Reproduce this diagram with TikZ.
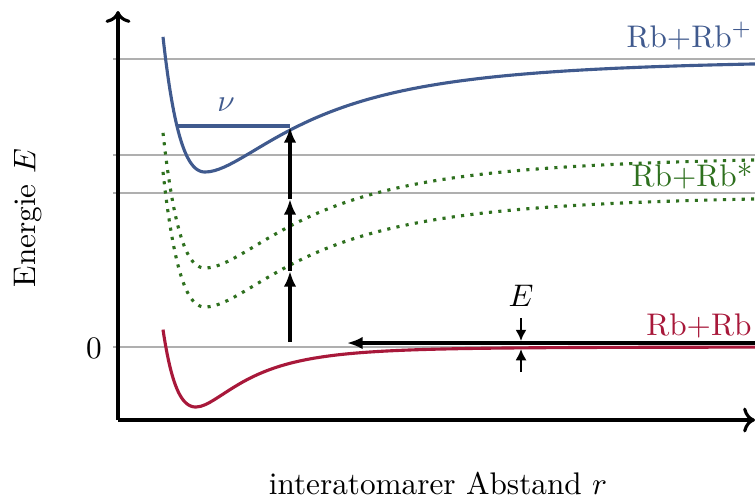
\documentclass[tikz,border=0pt]{standalone}
\usetikzlibrary{arrows.meta}
\definecolor{rbblue}{RGB}{64,90,142}
\definecolor{rbgreen}{RGB}{46,112,30}
\definecolor{rbred}{RGB}{168,24,58}
\definecolor{gridgray}{RGB}{175,175,175}
\begin{document}
\begin{tikzpicture}[x=0.32pt,y=-0.32pt,
  declare function={
    qionL(\x)=exp(-0.0176*(\x-205));
    qionR(\x)=exp(-3.43*ln(1+(\x-205)/270));
    qredL(\x)=exp(-0.023*(\x-196));
    qredR(\x)=exp(-5.61*ln(1+(\x-196)/230));
  },
  axisline/.style={line width=1pt,->},
  gridline/.style={draw=gridgray,line width=0.35pt},
  ionpot/.style={draw=rbblue,line width=1pt},
  excpot/.style={draw=rbgreen,line width=1pt,dotted},
  groundpot/.style={draw=rbred,line width=1pt},
  bigarrow/.style={line width=1pt,-{Latex[length=5pt,width=4pt]}},
  smallarrow/.style={line width=0.85pt,-{Latex[length=3.6pt,width=3.6pt]}},
  lbl/.style={font=\normalsize},
  curvelbl/.style={font=\normalsize,inner sep=0pt,anchor=base east}]
\useasboundingbox (0,0) rectangle (755,500);

% grid lines
\draw[gridline] (113,59) -- (755,59);
\draw[gridline] (113,155) -- (755,155);
\draw[gridline] (113,193) -- (755,193);
\draw[gridline] (113,347) -- (755,347);

% axes
\coordinate (O) at (118,420);
\coordinate (Ytop) at (118,11);
\coordinate (Xend) at (755,420);
\draw[axisline] (O) -- (Ytop);
\draw[axisline] (O) -- (Xend);

% ionic potential (blue) and shifted excited potentials (green)
\foreach \off/\sty in {0/ionpot,96/excpot,135/excpot}{
  \draw[\sty] plot[domain=163:205,samples=40] (\x,{59+\off-113*(qionL(\x)*qionL(\x)-2*qionL(\x))})
    -- plot[domain=205:755,samples=120] (\x,{59+\off-113*(qionR(\x)*qionR(\x)-2*qionR(\x))});
}
\coordinate (nuL) at (177,126);
\coordinate (nuR) at (290,126);
\draw[ionpot] (nuL) -- (nuR);

% ground potential (red)
\draw[groundpot] plot[domain=163:196,samples=40] (\x,{347-60*(qredL(\x)*qredL(\x)-2*qredL(\x))})
  -- plot[domain=196:755,samples=120] (\x,{347-60*(qredR(\x)*qredR(\x)-2*qredR(\x))});

% excitation arrows
\coordinate (v0) at (290,342);
\coordinate (v1) at (290,271);
\coordinate (v2) at (290,199);
\coordinate (v3) at (290,127);
\draw[bigarrow] (v0) -- (v1);
\draw[bigarrow] (v1) -- (v2);
\draw[bigarrow] (v2) -- (v3);

% horizontal arrow
\coordinate (h1) at (756,343);
\coordinate (h2) at (347,343);
\draw[bigarrow] (h1) -- (h2);

% energy marker
\coordinate (Ea1) at (521,318);
\coordinate (Ea2) at (521,341);
\coordinate (Eb1) at (521,372);
\coordinate (Eb2) at (521,349);
\draw[smallarrow] (Ea1) -- (Ea2);
\draw[smallarrow] (Eb1) -- (Eb2);

% labels
\node[lbl] (Elbl) at (521,296) {$E$};
\node[lbl,text=rbblue] (nulbl) at (226,105) {$\nu$};
\node[curvelbl,text=rbblue] (ionlbl) at (753,47) {Rb+Rb\textsuperscript{+}};
\node[curvelbl,text=rbgreen] (exclbl) at (753,186) {Rb+Rb*};
\node[curvelbl,text=rbred] (grdlbl) at (752,335) {Rb+Rb};
\node[lbl] (zero) at (94,348) {0};
\node[lbl,rotate=90] (ylbl) at (28,218) {Energie $E$};
\node[lbl] (xlbl) at (438,483) {interatomarer Abstand $r$};
\end{tikzpicture}
\end{document}
